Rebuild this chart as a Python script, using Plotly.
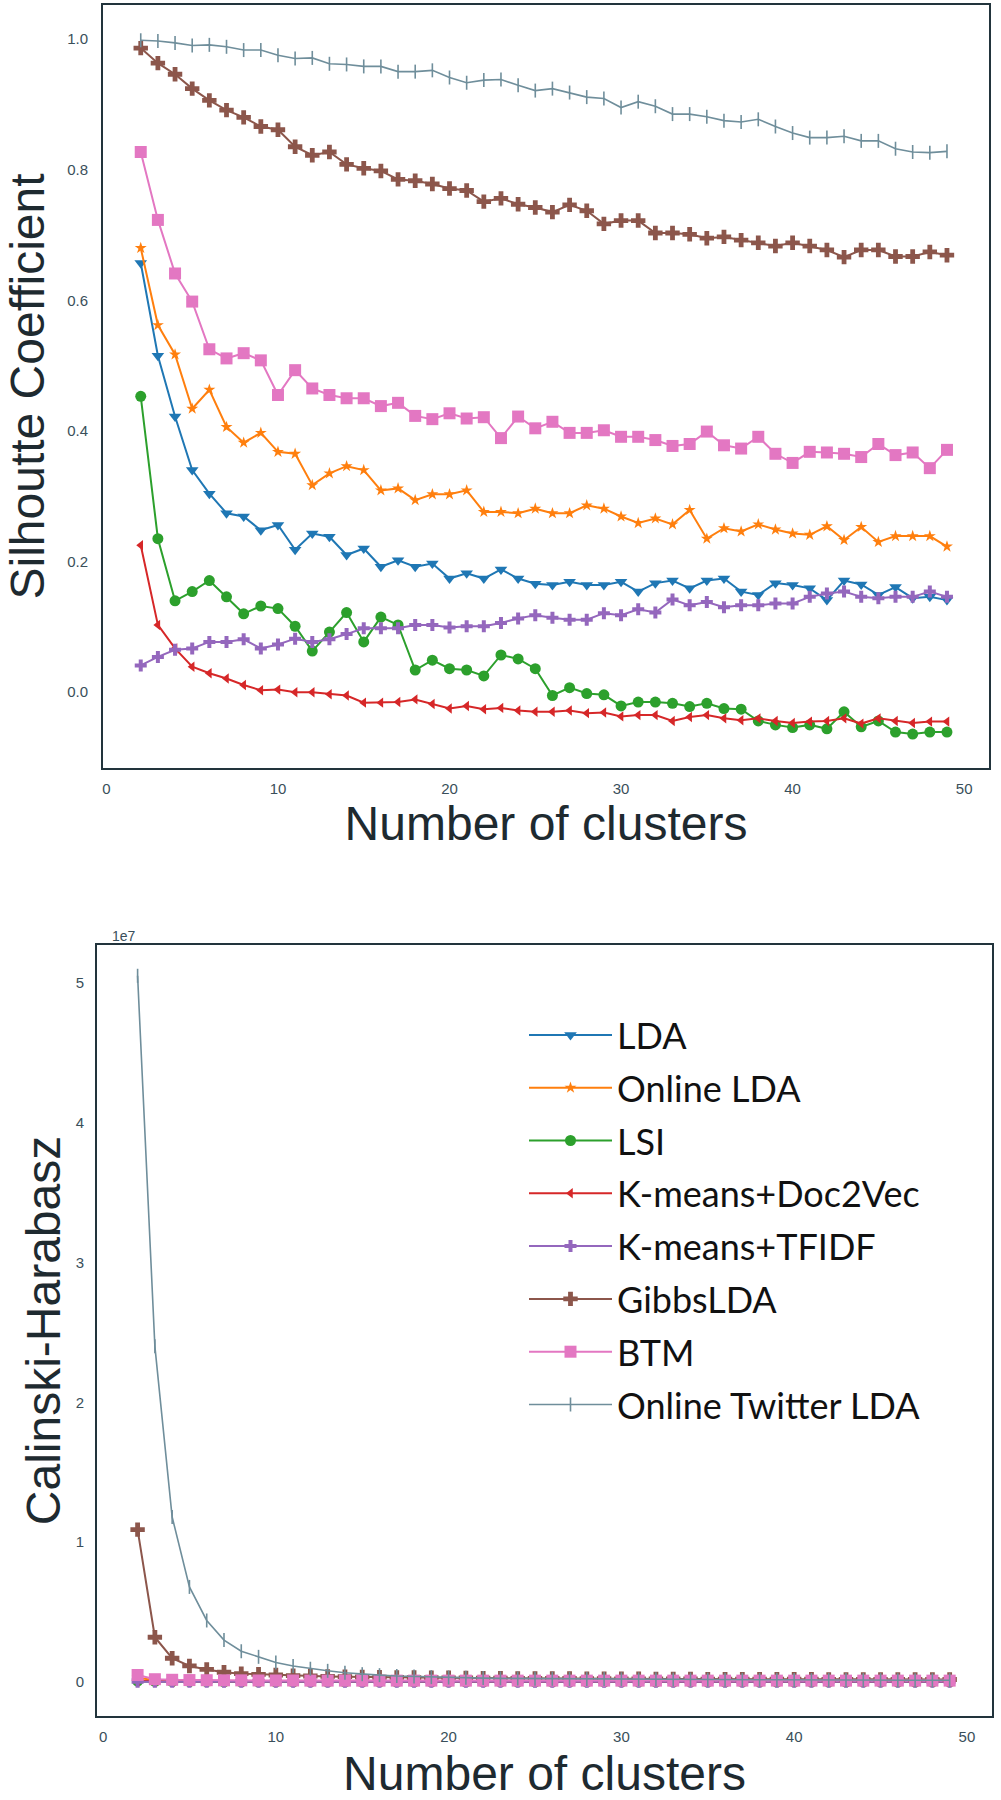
import plotly.graph_objects as go

# ---------------- data ----------------
clusters = list(range(2, 50))

names = ["LDA", "Online LDA", "LSI", "K-means+Doc2Vec", "K-means+TFIDF",
         "GibbsLDA", "BTM", "Online Twitter LDA"]

# Silhouette coefficient (top panel)
sil_lda = [0.657, 0.515, 0.422, 0.340, 0.304, 0.274, 0.269, 0.248, 0.256, 0.218, 0.243, 0.238,
           0.210, 0.220, 0.192, 0.202, 0.192, 0.197, 0.174, 0.182, 0.174, 0.188, 0.174, 0.166,
           0.164, 0.169, 0.164, 0.164, 0.169, 0.154, 0.167, 0.171, 0.159, 0.171, 0.174, 0.154,
           0.149, 0.167, 0.164, 0.159, 0.141, 0.171, 0.165, 0.149, 0.161, 0.144, 0.146, 0.141]
sil_online_lda = [0.680, 0.562, 0.517, 0.434, 0.463, 0.406, 0.382, 0.397, 0.368, 0.365, 0.317, 0.335,
                  0.346, 0.340, 0.309, 0.312, 0.294, 0.303, 0.303, 0.309, 0.276, 0.276, 0.274, 0.281,
                  0.274, 0.274, 0.286, 0.281, 0.269, 0.259, 0.266, 0.257, 0.279, 0.235, 0.251, 0.246,
                  0.257, 0.249, 0.243, 0.241, 0.254, 0.233, 0.253, 0.230, 0.239, 0.239, 0.239, 0.223]
sil_lsi = [0.453, 0.235, 0.140, 0.154, 0.171, 0.146, 0.120, 0.132, 0.128, 0.101, 0.063, 0.092,
           0.122, 0.077, 0.115, 0.103, 0.034, 0.049, 0.036, 0.034, 0.025, 0.057, 0.051, 0.036,
           -0.005, 0.007, -0.002, -0.004, -0.021, -0.015, -0.015, -0.017, -0.022, -0.017, -0.025, -0.026,
           -0.044, -0.050, -0.054, -0.050, -0.056, -0.030, -0.053, -0.044, -0.061, -0.064, -0.061, -0.061]
sil_doc2vec = [0.225, 0.103, 0.067, 0.039, 0.029, 0.021, 0.011, 0.003, 0.004, 0.000, 0.000, -0.003,
               -0.005, -0.016, -0.016, -0.015, -0.011, -0.018, -0.025, -0.021, -0.026, -0.024, -0.028, -0.030,
               -0.030, -0.028, -0.032, -0.031, -0.037, -0.035, -0.035, -0.044, -0.038, -0.035, -0.040, -0.043,
               -0.040, -0.044, -0.047, -0.045, -0.044, -0.040, -0.048, -0.040, -0.044, -0.047, -0.045, -0.045]
sil_tfidf = [0.041, 0.054, 0.065, 0.067, 0.077, 0.077, 0.081, 0.067, 0.073, 0.082, 0.077, 0.081,
             0.089, 0.098, 0.098, 0.098, 0.103, 0.103, 0.099, 0.101, 0.101, 0.106, 0.113, 0.118,
             0.114, 0.111, 0.111, 0.121, 0.118, 0.127, 0.122, 0.142, 0.133, 0.138, 0.130, 0.133,
             0.133, 0.136, 0.136, 0.146, 0.151, 0.154, 0.146, 0.144, 0.146, 0.146, 0.154, 0.146]
sil_gibbs = [0.986, 0.963, 0.946, 0.924, 0.906, 0.891, 0.880, 0.866, 0.861, 0.835, 0.822, 0.827,
             0.808, 0.802, 0.798, 0.785, 0.783, 0.778, 0.771, 0.768, 0.751, 0.756, 0.747, 0.742,
             0.735, 0.746, 0.737, 0.717, 0.722, 0.722, 0.703, 0.703, 0.701, 0.695, 0.697, 0.692,
             0.688, 0.683, 0.688, 0.683, 0.677, 0.666, 0.677, 0.677, 0.667, 0.667, 0.674, 0.669]
sil_btm = [0.827, 0.723, 0.641, 0.598, 0.525, 0.511, 0.519, 0.508, 0.455, 0.493, 0.465, 0.455,
           0.450, 0.450, 0.438, 0.443, 0.423, 0.418, 0.427, 0.419, 0.421, 0.389, 0.422, 0.404,
           0.414, 0.397, 0.397, 0.401, 0.391, 0.391, 0.386, 0.377, 0.380, 0.399, 0.378, 0.373,
           0.391, 0.365, 0.351, 0.368, 0.367, 0.365, 0.360, 0.380, 0.363, 0.367, 0.343, 0.371]
sil_twitter = [0.998, 0.997, 0.994, 0.990, 0.991, 0.988, 0.983, 0.983, 0.975, 0.970, 0.971, 0.962,
               0.961, 0.958, 0.958, 0.950, 0.950, 0.952, 0.941, 0.933, 0.937, 0.938, 0.929, 0.921,
               0.924, 0.918, 0.911, 0.909, 0.895, 0.904, 0.897, 0.885, 0.885, 0.881, 0.875, 0.873,
               0.877, 0.866, 0.856, 0.849, 0.849, 0.851, 0.844, 0.844, 0.832, 0.827, 0.826, 0.828]

# Calinski-Harabasz (bottom panel), in units of 1e7
ch_lda = [0.004, 0.003, 0.003, 0.002, 0.002, 0.002, 0.002, 0.002, 0.001, 0.001, 0.001, 0.001,
          0.001, 0.001, 0.001, 0.001, 0.001, 0.001, 0.001, 0.001, 0.001, 0.001, 0.001, 0.001,
          0.001, 0.001, 0.001, 0.001, 0.001, 0.001, 0.001, 0.001, 0.001, 0.001, 0.001, 0.001,
          0.001, 0.001, 0.001, 0.001, 0.001, 0.001, 0.001, 0.001, 0.001, 0.001, 0.001, 0.001]
ch_online_lda = [0.030, 0.012, 0.008, 0.006, 0.005, 0.004, 0.004, 0.003, 0.003, 0.003, 0.003, 0.002,
                 0.002, 0.002, 0.002, 0.002, 0.002, 0.002, 0.002, 0.002, 0.002, 0.002, 0.002, 0.002,
                 0.002, 0.002, 0.002, 0.002, 0.002, 0.002, 0.002, 0.002, 0.002, 0.002, 0.002, 0.002,
                 0.002, 0.002, 0.002, 0.002, 0.002, 0.002, 0.002, 0.002, 0.002, 0.002, 0.002, 0.002]
ch_lsi = [0.006, 0.004, 0.003, 0.003, 0.003, 0.002, 0.002, 0.002, 0.002, 0.002, 0.002, 0.002,
          0.002, 0.002, 0.002, 0.002, 0.002, 0.002, 0.002, 0.002, 0.002, 0.002, 0.002, 0.002,
          0.002, 0.002, 0.002, 0.002, 0.002, 0.002, 0.002, 0.002, 0.002, 0.002, 0.002, 0.002,
          0.002, 0.002, 0.002, 0.002, 0.002, 0.002, 0.002, 0.002, 0.002, 0.002, 0.002, 0.002]
ch_doc2vec = [0.008, 0.005, 0.004, 0.003, 0.003, 0.003, 0.002, 0.002, 0.002, 0.002, 0.002, 0.002,
              0.002, 0.002, 0.002, 0.002, 0.002, 0.002, 0.002, 0.002, 0.002, 0.002, 0.002, 0.002,
              0.002, 0.002, 0.002, 0.002, 0.002, 0.002, 0.002, 0.002, 0.002, 0.002, 0.002, 0.002,
              0.002, 0.002, 0.002, 0.002, 0.002, 0.002, 0.002, 0.002, 0.002, 0.002, 0.002, 0.002]
ch_tfidf = [0.002, 0.002, 0.002, 0.002, 0.002, 0.002, 0.002, 0.002, 0.002, 0.002, 0.002, 0.002,
            0.002, 0.002, 0.002, 0.002, 0.002, 0.002, 0.002, 0.002, 0.002, 0.002, 0.002, 0.002,
            0.002, 0.002, 0.002, 0.002, 0.002, 0.002, 0.002, 0.002, 0.002, 0.002, 0.002, 0.002,
            0.002, 0.002, 0.002, 0.002, 0.002, 0.002, 0.002, 0.002, 0.002, 0.002, 0.002, 0.002]
ch_gibbs = [1.09, 0.32, 0.17, 0.115, 0.090, 0.070, 0.060, 0.055, 0.050, 0.046, 0.043, 0.040,
            0.038, 0.036, 0.034, 0.033, 0.032, 0.031, 0.030, 0.029, 0.028, 0.027, 0.026, 0.026,
            0.025, 0.025, 0.024, 0.024, 0.023, 0.023, 0.022, 0.022, 0.022, 0.021, 0.021, 0.021,
            0.020, 0.020, 0.020, 0.020, 0.019, 0.019, 0.019, 0.019, 0.018, 0.018, 0.018, 0.018]
ch_btm = [0.050, 0.020, 0.016, 0.014, 0.013, 0.012, 0.012, 0.011, 0.011, 0.011, 0.010, 0.010,
          0.010, 0.010, 0.010, 0.010, 0.010, 0.010, 0.010, 0.010, 0.010, 0.010, 0.010, 0.010,
          0.010, 0.010, 0.010, 0.010, 0.010, 0.010, 0.010, 0.010, 0.010, 0.010, 0.010, 0.010,
          0.010, 0.010, 0.010, 0.010, 0.010, 0.010, 0.010, 0.010, 0.010, 0.010, 0.010, 0.010]
ch_twitter = [5.05, 2.40, 1.18, 0.68, 0.44, 0.30, 0.22, 0.18, 0.14, 0.115, 0.095, 0.080,
              0.066, 0.056, 0.049, 0.043, 0.039, 0.035, 0.032, 0.030, 0.028, 0.026, 0.025, 0.024,
              0.023, 0.022, 0.021, 0.021, 0.020, 0.019, 0.019, 0.018, 0.018, 0.017, 0.017, 0.016,
              0.016, 0.016, 0.015, 0.015, 0.015, 0.014, 0.014, 0.014, 0.013, 0.013, 0.013, 0.013]

x_ticks = [0, 10, 20, 30, 40, 50]
sil_ticks = [0.0, 0.2, 0.4, 0.6, 0.8, 1.0]
sil_tick_text = ["0.0", "0.2", "0.4", "0.6", "0.8", "1.0"]
ch_ticks = [0, 1, 2, 3, 4, 5]
ch_tick_text = ["0", "1", "2", "3", "4", "5"]

# ---------------- styles ----------------
colors = ["#1f77b4", "#ff7f0e", "#2ca02c", "#d62728", "#9467bd", "#8c564b", "#e377c2", "#6f8e9b"]
symbols = ["triangle-down", "star", "circle", "triangle-left", "cross", "cross", "square", "line-ns"]
sizes = [11, 9, 11, 9, 10, 12, 12, 10]

sil_series = [sil_lda, sil_online_lda, sil_lsi, sil_doc2vec, sil_tfidf, sil_gibbs, sil_btm, sil_twitter]
ch_series = [ch_lda, ch_online_lda, ch_lsi, ch_doc2vec, ch_tfidf, ch_gibbs, ch_btm, ch_twitter]

W, H = 1001, 1800
FRAME = "#22343c"
TICKC = "#3a4f5a"
TITLEC = "#1e2a30"

fig = go.Figure()


def marker_for(i):
    if symbols[i] == "line-ns":
        return dict(symbol="line-ns", size=sizes[i], color=colors[i],
                    line=dict(width=1.6, color=colors[i]))
    return dict(symbol=symbols[i], size=sizes[i], color=colors[i], line=dict(width=0))


for i, name in enumerate(names):
    fig.add_trace(go.Scatter(
        x=clusters, y=sil_series[i], mode="lines+markers", name=name,
        legendgroup=name, showlegend=False,
        line=dict(color=colors[i], width=2 if i != 7 else 1.6),
        marker=marker_for(i), xaxis="x", yaxis="y"))

for i, name in enumerate(names):
    fig.add_trace(go.Scatter(
        x=clusters, y=ch_series[i], mode="lines+markers", name=name,
        legendgroup=name, showlegend=True,
        line=dict(color=colors[i], width=2 if i != 7 else 1.6),
        marker=marker_for(i), xaxis="x2", yaxis="y2"))

axis_common = dict(showgrid=False, zeroline=False, showline=True, mirror=True,
                   linecolor=FRAME, linewidth=2, ticks="",
                   tickfont=dict(family="Liberation Sans, Arial", size=15, color=TICKC))

title_font = dict(family="Liberation Sans, Arial", size=48, color=TITLEC)

fig.update_layout(
    width=W, height=H,
    margin=dict(l=0, r=0, t=0, b=0),
    paper_bgcolor="#ffffff", plot_bgcolor="#ffffff",
    showlegend=True,
    legend=dict(x=524 / W, xanchor="left", y=1 - 1005 / H, yanchor="top",
                font=dict(family="Lato", size=36, color="#111111"),
                bgcolor="rgba(0,0,0,0)", borderwidth=0, tracegroupgap=3,
                itemwidth=83, itemsizing="trace"),
    xaxis=dict(domain=[103 / W, 989 / W], range=[-0.2, 51.45], anchor="y",
               tickvals=x_ticks, ticklabelstandoff=6,
               title=dict(text="Number of clusters", font=title_font, standoff=6),
               **axis_common),
    yaxis=dict(domain=[1 - 768 / H, 1 - 5 / H], range=[-0.116, 1.052], anchor="x",
               tickvals=sil_ticks, ticktext=sil_tick_text, ticklabelstandoff=10,
               title=dict(text="Silhoutte Coefficient", font=title_font, standoff=7),
               **axis_common),
    xaxis2=dict(domain=[97 / W, 992 / W], range=[-0.35, 51.45], anchor="y2",
                tickvals=x_ticks, ticklabelstandoff=6,
                title=dict(text="Number of clusters", font=title_font, standoff=16),
                **axis_common),
    yaxis2=dict(domain=[1 - 1716 / H, 1 - 945 / H], range=[-0.243, 5.27], anchor="x2",
                tickvals=ch_ticks, ticktext=ch_tick_text, ticklabelstandoff=8,
                title=dict(text="Calinski-Harabasz", font=title_font, standoff=0),
                **axis_common),
    annotations=[dict(text="1e7", x=124 / W, y=1 - 936 / H, xref="paper", yref="paper",
                      xanchor="center", yanchor="middle", showarrow=False,
                      font=dict(family="Liberation Sans, Arial", size=14, color=TICKC))],
)

fig.write_html("out.html", config={"displayModeBar": False},
               post_script="document.body.style.margin='0';")
